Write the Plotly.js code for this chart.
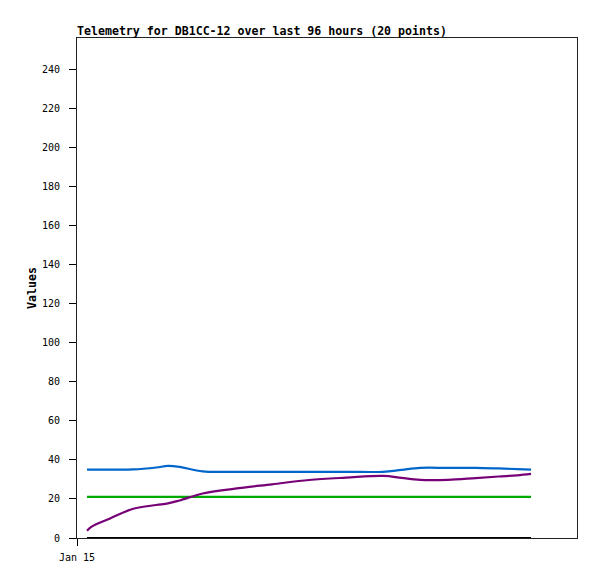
<!DOCTYPE html>
<html>
<head>
<meta charset="utf-8">
<script src="https://cdn.plot.ly/plotly-3.0.1.min.js"></script>
<style>html,body{margin:0;padding:0;background:#fff;}#chart{width:597px;height:579px;}</style>
</head>
<body>
<div id="chart"></div>
<script>
// Hours after the first sample (start: Jan 15 02:10)
const hoursOffset = [0, 1, 5, 10, 15, 17.5, 20, 25, 32, 40, 48, 56, 64, 68, 72, 78, 84, 89, 93, 96];
const seriesBlue   = [35.0, 35.0, 35.0, 35.1, 36.1, 36.9, 36.4, 34.1, 33.9, 33.9, 33.9, 33.9, 33.9, 34.9, 35.9, 35.9, 35.9, 35.6, 35.3, 35.0];
const seriesGreen  = [21.1, 21.1, 21.1, 21.1, 21.1, 21.1, 21.1, 21.1, 21.1, 21.1, 21.1, 21.1, 21.1, 21.1, 21.1, 21.1, 21.1, 21.1, 21.1, 21.1];
const seriesPurple = [3.7, 5.8, 10.0, 15.0, 16.9, 17.7, 19.2, 22.8, 25.3, 27.5, 29.7, 30.9, 31.8, 30.8, 29.8, 29.8, 30.7, 31.5, 32.1, 32.8];
const seriesBlack  = [0, 0, 0, 0, 0, 0, 0, 0, 0, 0, 0, 0, 0, 0, 0, 0, 0, 0, 0, 0];
const tickVals = ['2024-01-15 00:00'];
const tickText = ['Jan 15'];
const yTicks = [0, 20, 40, 60, 80, 100, 120, 140, 160, 180, 200, 220, 240];

const startMs = Date.UTC(2024, 0, 15, 2, 10);
function fmt(ms){
  const d = new Date(ms);
  const p = n => String(n).padStart(2,'0');
  return d.getUTCFullYear()+'-'+p(d.getUTCMonth()+1)+'-'+p(d.getUTCDate())+' '+p(d.getUTCHours())+':'+p(d.getUTCMinutes())+':'+p(d.getUTCSeconds());
}
const times = hoursOffset.map(h => fmt(startMs + h*3600000));
const rangeStart = fmt(Date.UTC(2024,0,15,0,0));
const rangeEnd = fmt(Date.UTC(2024,0,15,0,0) + 108.1*3600000);

function tr(y, color){
  return {x: times, y: y, type: 'scatter', mode: 'lines',
    line: {color: color, width: 2.2, shape: 'spline', smoothing: 1}, hoverinfo: 'skip'};
}
const data = [
  tr(seriesBlack, '#000000'),
  tr(seriesGreen, '#00aa00'),
  tr(seriesBlue, '#0066cc'),
  tr(seriesPurple, '#770077')
];
const mono = 'DejaVu Sans Mono, monospace';
const layout = {
  width: 597, height: 579,
  margin: {l: 77, r: 20, t: 38, b: 41, pad: 0},
  paper_bgcolor: '#ffffff', plot_bgcolor: '#ffffff',
  showlegend: false,
  title: {text: 'Telemetry for DB1CC-12 over last 96 hours (20 points)',
    font: {family: mono, size: 11.6, color: '#000', weight: 'bold'},
    x: 77/597, xref: 'container', xanchor: 'left', y: 1 - 31/579, yref: 'container', yanchor: 'middle'},
  xaxis: {type: 'date', range: [rangeStart, rangeEnd], tickmode: 'array', tickvals: tickVals, ticktext: tickText,
    showgrid: false, zeroline: false, showline: true, mirror: true, linecolor: '#222', linewidth: 1,
    ticks: 'outside', ticklen: 7, tickcolor: '#000', ticklabelstandoff: 3,
    tickfont: {family: mono, size: 10, color: '#000'}},
  yaxis: {range: [0, 256], tickmode: 'array', tickvals: yTicks,
    showgrid: false, zeroline: false, showline: true, mirror: true, linecolor: '#222', linewidth: 1,
    ticks: 'outside', ticklen: 7, tickcolor: '#000', ticklabelstandoff: 7,
    tickfont: {family: mono, size: 10, color: '#000'},
    title: {text: 'Values', font: {family: mono, size: 11.6, color: '#000', weight: 'bold'}, standoff: 2}}
};
Plotly.newPlot('chart', data, layout, {staticPlot: true, displayModeBar: false});
</script>
</body>
</html>
